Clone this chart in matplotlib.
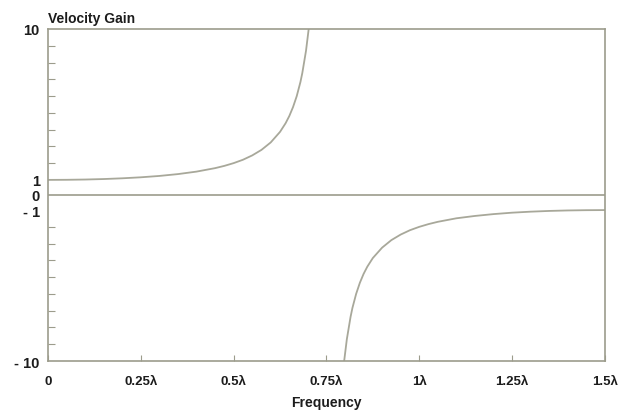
import matplotlib.pyplot as plt
import numpy as np

# values (frequency in wavelengths, velocity gain)
freq_up = [0, 0.05, 0.1, 0.15, 0.2, 0.25, 0.3, 0.35, 0.4, 0.45, 0.475, 0.5, 0.525,
           0.55, 0.575, 0.6, 0.625, 0.64, 0.65, 0.66, 0.67, 0.68, 0.685, 0.695, 0.702]
gain_up = [1, 1.006, 1.022, 1.051, 1.095, 1.155, 1.236, 1.346, 1.494, 1.701, 1.836, 2.0, 2.2,
           2.459, 2.79, 3.236, 3.864, 4.38, 4.81, 5.34, 5.995, 6.84, 7.37, 8.7, 9.96]
freq_lo = [0.798, 0.805, 0.815, 0.82, 0.83, 0.84, 0.85, 0.86, 0.875, 0.9, 0.925, 0.95,
           0.975, 1.0, 1.025, 1.05, 1.1, 1.15, 1.2, 1.25, 1.3, 1.35, 1.4, 1.45, 1.5]
gain_lo = [-9.96, -8.7, -7.37, -6.84, -6.0, -5.34, -4.81, -4.38, -3.86, -3.24, -2.79, -2.46,
           -2.2, -2.0, -1.836, -1.70, -1.49, -1.35, -1.24, -1.155, -1.095, -1.051, -1.022,
           -1.006, -1.0]

xticks = [0, 0.25, 0.5, 0.75, 1.0, 1.25, 1.5]
xlabels = ['0', '0.25λ', '0.5λ', '0.75λ', '1λ', '1.25λ', '1.5λ']
yticks = [-10, -1, 0, 1, 10]
ylabels = ['- 10', '- 1', '0', '1', '10']
yminor = [-9, -8, -7, -6, -5, -4, -3, -2, 2, 3, 4, 5, 6, 7, 8, 9]


# linear from 1 to 10 and -1 to -10, with the span -1..1 squeezed
def fwd(y):
    y = np.asarray(y, dtype=float)
    return np.where(np.abs(y) <= 1, 0.9 * y, y - 0.1 * np.sign(y))


def inv(t):
    t = np.asarray(t, dtype=float)
    return np.where(np.abs(t) <= 0.9, t / 0.9, t + 0.1 * np.sign(t))


plt.rcParams['font.family'] = ['Liberation Sans', 'DejaVu Sans']
line_col = '#9c9c8c'
txt_col = '#1c1c1c'

fig = plt.figure(figsize=(6.36, 4.14), dpi=100)
ax = fig.add_axes([0.0755, 0.1256, 0.8755, 0.802])

ax.plot(freq_up, gain_up, color='#a8a89a', lw=1.3)
ax.plot(freq_lo, gain_lo, color='#a8a89a', lw=1.3)
ax.axhline(0, color=line_col, lw=1.2)

ax.set_yscale('function', functions=(fwd, inv))
ax.set_xlim(0, 1.5)
ax.set_ylim(-10, 10)

ax.set_xticks(xticks)
ax.set_xticklabels(xlabels)
ax.set_yticks(yticks)
ax.set_yticklabels(ylabels)
ax.set_yticks(yminor, minor=True)

ax.tick_params(axis='x', direction='in', length=4, width=0.8, color=line_col,
               pad=10, labelsize=9.5, labelcolor=txt_col)
ax.tick_params(axis='y', which='major', direction='in', length=0, pad=6,
               labelsize=10.5, labelcolor=txt_col)
ax.tick_params(axis='y', which='minor', direction='in', length=5, width=0.8,
               color=line_col)
for lab in ax.get_xticklabels() + ax.get_yticklabels():
    lab.set_fontweight('bold')

for s in ax.spines.values():
    s.set_color(line_col)
    s.set_linewidth(1.2)

ax.set_xlabel('Frequency', fontsize=10, fontweight='bold', color=txt_col, labelpad=6)
ax.text(0, 1.012, 'Velocity Gain', transform=ax.transAxes, fontsize=10,
        fontweight='bold', color=txt_col, ha='left', va='bottom')

fig.savefig('out.png', dpi=100)
